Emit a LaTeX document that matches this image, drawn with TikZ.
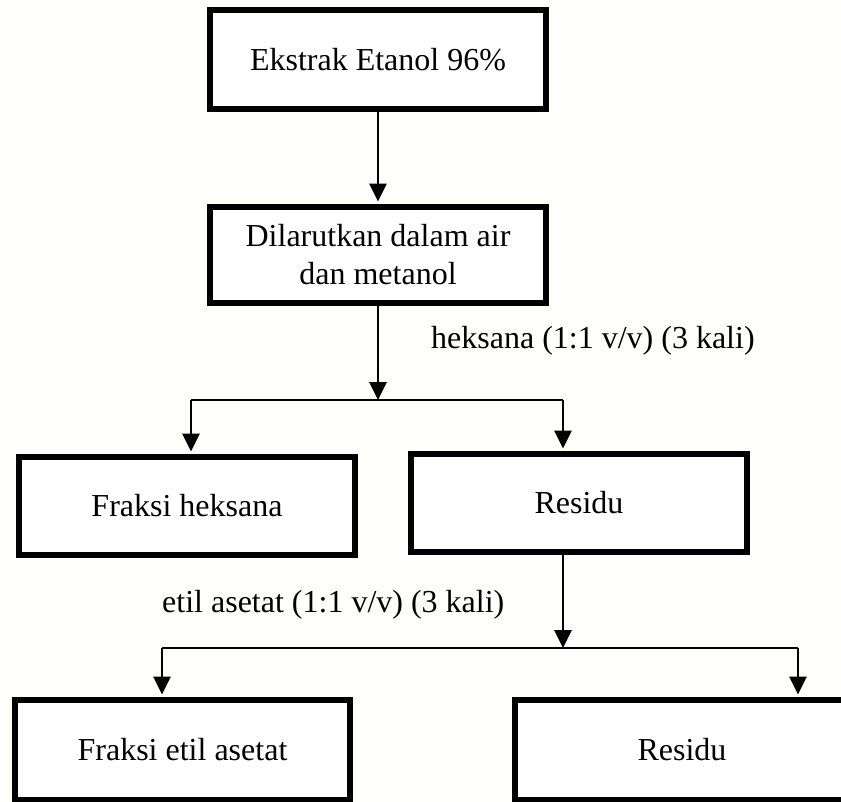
\documentclass[tikz,border=0pt]{standalone}
\usepackage{fontspec}
\setmainfont{Liberation Serif}
\usetikzlibrary{arrows.meta}
\definecolor{bgcol}{RGB}{254,254,250}
\tikzset{
  box/.style={draw=black, line width=5.5pt, fill=white, align=center,
    font=\fontsize{32}{38}\selectfont, inner sep=0pt},
  conn/.style={line width=2.8pt},
  arr/.style={conn, -{Triangle[length=18pt,width=17pt]}},
  lbl/.style={font=\fontsize{32}{38}\selectfont, inner sep=0pt, anchor=base west}
}
\begin{document}
\begin{tikzpicture}[x=1pt,y=-1pt]
\clip (0,0) rectangle (841,801);
\fill[bgcol] (0,0) rectangle (841,801);
\node[box, minimum width=336pt, minimum height=99pt] (b1) at (378,59.5) {Ekstrak Etanol 96\%};
\node[box, minimum width=336pt, minimum height=96pt] (b2) at (378,255) {Dilarutkan dalam air\\dan metanol};
\node[box, minimum width=336pt, minimum height=98pt] (b3) at (187,506) {Fraksi heksana};
\node[box, minimum width=336pt, minimum height=98pt] (b4) at (579,503) {Residu};
\node[box, minimum width=335pt, minimum height=100pt] (b5) at (182.5,750) {Fraksi etil asetat};
\node[box, minimum width=334pt, minimum height=100pt] (b6) at (682,750) {Residu};
\node[lbl] (t1) at (431,348) {heksana (1:1 v/v) (3 kali)};
\node[lbl] (t2) at (162,612) {etil asetat (1:1 v/v) (3 kali)};
\coordinate (j1) at (378,400);
\coordinate (l1) at (191,400);
\coordinate (r1) at (563,400);
\coordinate (j2) at (563,648);
\coordinate (l2) at (162,648);
\coordinate (r2) at (798,648);
\draw[arr, shorten >=2.7pt] (b1) -- (b2);
\draw[arr] (b2.south) -- (j1);
\draw[conn] (l1) -- (r1);
\draw[arr, shorten >=2.7pt] (l1) -- (l1 |- b3.north);
\draw[arr, shorten >=2.7pt] (r1) -- (r1 |- b4.north);
\draw[arr] (r1 |- b4.south) -- (j2);
\draw[conn] (l2) -- (r2);
\draw[arr, shorten >=2.7pt] (l2) -- (l2 |- b5.north);
\draw[arr, shorten >=2.7pt] (r2) -- (r2 |- b6.north);
\end{tikzpicture}
\end{document}
